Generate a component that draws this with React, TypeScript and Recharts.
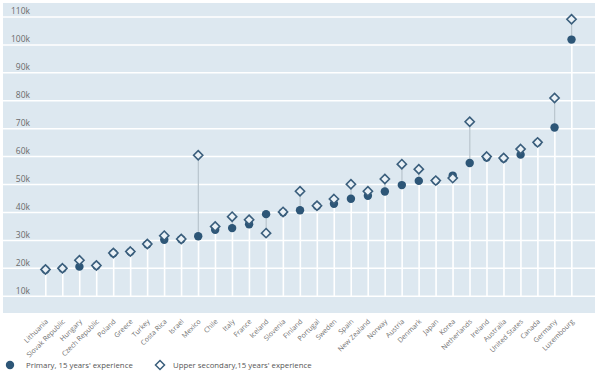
import { ComposedChart, Bar, Line, XAxis, YAxis, CartesianGrid } from 'recharts';

const countries = [
  'Lithuania', 'Slovak Republic', 'Hungary', 'Czech Republic', 'Poland', 'Greece', 'Turkey', 'Costa Rica',
  'Israel', 'Mexico', 'Chile', 'Italy', 'France', 'Iceland', 'Slovenia', 'Finland', 'Portugal', 'Sweden',
  'Spain', 'New Zealand', 'Norway', 'Austria', 'Denmark', 'Japan', 'Korea', 'Netherlands', 'Ireland',
  'Australia', 'United States', 'Canada', 'Germany', 'Luxembourg',
];

// Primary teachers, 15 years' experience (USD)
const primary = [
  19500, 19900, 20600, 20900, 25400, 25900, 28600, 30200, 30400, 31500, 33800, 34400, 35800, 39400, 40100, 40800,
  42300, 43100, 44900, 46000, 47500, 49800, 51300, 51300, 53200, 57700, 59700, 59300, 60700, 65000, 70400, 101900,
];

// Upper secondary teachers, 15 years' experience (USD)
const upperSecondary = [
  19600, 20000, 22900, 21000, 25500, 26000, 28700, 31700, 30500, 60500, 35000, 38500, 37400, 32600, 40200, 47600,
  42400, 44800, 50100, 47600, 52000, 57300, 55500, 51400, 52300, 72500, 60000, 59500, 62700, 65100, 81000, 109200,
];

const yTicks = [10000, 20000, 30000, 40000, 50000, 60000, 70000, 80000, 90000, 100000, 110000];

const BG = '#dde8f0';
const DARK = '#2d5677';
const FONT = '"Open Sans", sans-serif';

const data = countries.map((country, i) => {
  const lo = Math.min(primary[i], upperSecondary[i]);
  const hi = Math.max(primary[i], upperSecondary[i]);
  return {
    country,
    primary: primary[i],
    upper: upperSecondary[i],
    stem: [yTicks[0], lo],
    gap: [lo, hi],
  };
});

const Dot = (props: any) => {
  const { cx, cy } = props;
  if (cx == null || cy == null) return null;
  return <circle key={props.index} cx={cx} cy={cy} r={4.2} fill={DARK} />;
};

const Diamond = (props: any) => {
  const { cx, cy } = props;
  if (cx == null || cy == null) return null;
  const s = 4.6;
  return (
    <path
      key={props.index}
      d={`M${cx},${cy - s}L${cx + s},${cy}L${cx},${cy + s}L${cx - s},${cy}Z`}
      fill="#eaf1f6"
      stroke="#3a5e7c"
      strokeWidth={1.6}
    />
  );
};

const renderYTick = (props: any) => {
  const { y, payload } = props;
  return (
    <text key={payload.value} x={30} y={y - 2.5} textAnchor="end" fontSize={8.5} fill="#6b6b6b" fontFamily={FONT}>
      {`${payload.value / 1000}k`}
    </text>
  );
};

const renderXTick = (props: any) => {
  const { x, y, payload } = props;
  const tx = x + 3;
  const ty = y + 1;
  return (
    <text
      key={payload.value}
      x={tx}
      y={ty}
      textAnchor="end"
      fontSize={7}
      fill="#707070"
      fontFamily={FONT}
      transform={`rotate(-45, ${tx}, ${ty})`}
    >
      {payload.value}
    </text>
  );
};

export default function App() {
  return (
    <div style={{ position: 'relative', width: 597, height: 375, background: '#fff' }}>
      <style>{'body{margin:0}'}</style>
      <ComposedChart width={597} height={375} data={data} margin={{ top: 3, right: 2, left: 2, bottom: 0 }}>
        <CartesianGrid vertical={false} horizontal fill={BG} stroke="#ffffff" strokeWidth={1.5} horizontalValues={yTicks} />
        <XAxis
          dataKey="country"
          interval={0}
          height={62}
          axisLine={false}
          tickLine={false}
          tick={renderXTick}
          padding={{ left: 34, right: 15 }}
        />
        <XAxis xAxisId="stem" dataKey="country" hide padding={{ left: 34, right: 15 }} />
        <XAxis xAxisId="gap" dataKey="country" hide padding={{ left: 34, right: 15 }} />
        <YAxis
          width={1}
          domain={[4000, 115000]}
          ticks={yTicks}
          interval={0}
          axisLine={false}
          tickLine={false}
          tick={renderYTick}
          allowDataOverflow
        />
        <Bar xAxisId="stem" dataKey="stem" barSize={1.6} fill="#ffffff" isAnimationActive={false} />
        <Bar xAxisId="gap" dataKey="gap" barSize={1.2} fill="#b9c5cd" isAnimationActive={false} />
        <Line dataKey="primary" stroke="none" dot={<Dot />} activeDot={false} isAnimationActive={false} />
        <Line dataKey="upper" stroke="none" dot={<Diamond />} activeDot={false} isAnimationActive={false} />
      </ComposedChart>
      <div
        style={{
          position: 'absolute',
          top: 359,
          left: 5,
          display: 'flex',
          alignItems: 'center',
          fontFamily: FONT,
          fontSize: 7.8,
          color: '#555',
          whiteSpace: 'nowrap',
        }}
      >
        <svg width={12} height={12} style={{ marginRight: 9 }}>
          <circle cx={5} cy={6} r={4.2} fill={DARK} />
        </svg>
        <span style={{ width: 128 }}>Primary, 15 years' experience</span>
        <svg width={12} height={12} style={{ marginRight: 7 }}>
          <path d="M6,1.5L10.5,6L6,10.5L1.5,6Z" fill="#fff" stroke="#3a5e7c" strokeWidth={1.5} />
        </svg>
        <span>Upper secondary,15 years' experience</span>
      </div>
    </div>
  );
}
